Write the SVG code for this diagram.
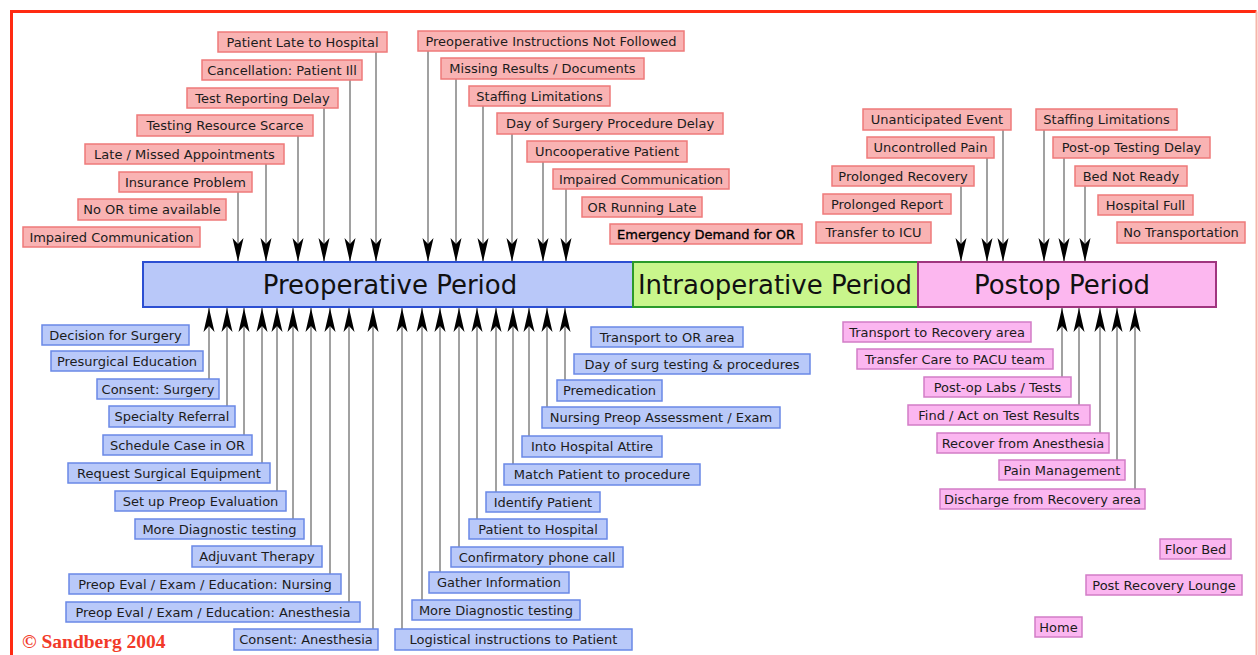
<svg xmlns="http://www.w3.org/2000/svg" width="1258" height="655" viewBox="0 0 1258 655">
<style>
  .r rect{fill:#f9b3b3;stroke:#ee7a7a;stroke-width:1.5}
  .b rect{fill:#b9c9f9;stroke:#6a88e6;stroke-width:1.5}
  .p rect{fill:#fbb6f0;stroke:#d27cc6;stroke-width:1.5}
  text{font-family:"DejaVu Sans","Liberation Sans",sans-serif;font-size:13px;fill:#1c1c1c;text-anchor:middle}
  .bar text{font-size:26px;fill:#111}
  .c line{stroke:#8a8a8a;stroke-width:1.6}
  .dn line{marker-end:url(#ah)}
  .up line{marker-end:url(#ah)}
</style>
<defs>
  <marker id="ah" viewBox="-25 -6 26 12" markerUnits="userSpaceOnUse" markerWidth="26" markerHeight="12" refX="0" refY="0" orient="auto">
    <path d="M0,0 L-24,-5.5 L-18,0 L-24,5.5 Z" fill="#000"/>
  </marker>
</defs>
<rect x="0" y="0" width="1258" height="655" fill="#fff"/>
<path d="M11.5,680 L11.5,11.5 L1256.5,11.5" fill="none" stroke="#ff2a12" stroke-width="3"/>
<line x1="1256.5" y1="11.5" x2="1256.5" y2="655" stroke="#f7b5aa" stroke-width="2"/>

<g class="c">
 <g class="dn">
  <line x1="238" y1="192" x2="238" y2="262"/>
  <line x1="266" y1="164" x2="266" y2="262"/>
  <line x1="298" y1="136" x2="298" y2="262"/>
  <line x1="324" y1="108" x2="324" y2="262"/>
  <line x1="350" y1="80" x2="350" y2="262"/>
  <line x1="376" y1="52" x2="376" y2="262"/>
  <line x1="428" y1="51" x2="428" y2="262"/>
  <line x1="456" y1="79" x2="456" y2="262"/>
  <line x1="483" y1="106" x2="483" y2="262"/>
  <line x1="512" y1="134" x2="512" y2="262"/>
  <line x1="543" y1="162" x2="543" y2="262"/>
  <line x1="566" y1="189" x2="566" y2="262"/>
  <line x1="961" y1="186" x2="961" y2="262"/>
  <line x1="987" y1="158" x2="987" y2="262"/>
  <line x1="1003" y1="130" x2="1003" y2="262"/>
  <line x1="1044" y1="130" x2="1044" y2="262"/>
  <line x1="1064" y1="158" x2="1064" y2="262"/>
  <line x1="1085" y1="186" x2="1085" y2="262"/>
 </g>
 <g class="up">
  <line x1="209" y1="379" x2="209" y2="308"/>
  <line x1="227" y1="406" x2="227" y2="308"/>
  <line x1="244" y1="435" x2="244" y2="308"/>
  <line x1="262" y1="463" x2="262" y2="308"/>
  <line x1="277" y1="491" x2="277" y2="308"/>
  <line x1="293" y1="519" x2="293" y2="308"/>
  <line x1="311" y1="546" x2="311" y2="308"/>
  <line x1="330" y1="574" x2="330" y2="308"/>
  <line x1="349" y1="602" x2="349" y2="308"/>
  <line x1="373" y1="629" x2="373" y2="308"/>
  <line x1="402" y1="629" x2="402" y2="308"/>
  <line x1="422" y1="600" x2="422" y2="308"/>
  <line x1="440" y1="572" x2="440" y2="308"/>
  <line x1="459" y1="547" x2="459" y2="308"/>
  <line x1="477" y1="519" x2="477" y2="308"/>
  <line x1="496" y1="492" x2="496" y2="308"/>
  <line x1="513" y1="464" x2="513" y2="308"/>
  <line x1="529" y1="436" x2="529" y2="308"/>
  <line x1="547" y1="407" x2="547" y2="308"/>
  <line x1="565" y1="380" x2="565" y2="308"/>
  <line x1="1062" y1="377" x2="1062" y2="308"/>
  <line x1="1079" y1="405" x2="1079" y2="308"/>
  <line x1="1100" y1="433" x2="1100" y2="308"/>
  <line x1="1117" y1="460" x2="1117" y2="308"/>
  <line x1="1135" y1="489" x2="1135" y2="308"/>
 </g>
</g>

<g class="bar">
 <g id="preop"><rect x="143" y="262" width="490" height="45" fill="#b9c8f9" stroke="#2c4fd2" stroke-width="2"/><text x="390" y="294">Preoperative Period</text></g>
 <g id="intraop"><rect x="633" y="262" width="285" height="45" fill="#c9f68c" stroke="#2a9a2a" stroke-width="2"/><text x="775" y="294">Intraoperative Period</text></g>
 <g id="postop"><rect x="918" y="262" width="298" height="45" fill="#fcb7ef" stroke="#a0357f" stroke-width="2"/><text x="1062" y="294">Postop Period</text></g>
</g>

<g class="r">
 <g id="r1"><rect x="218" y="32" width="169" height="20"/><text x="302.5" y="46.5">Patient Late to Hospital</text></g>
 <g id="r2"><rect x="202" y="60" width="160" height="20"/><text x="282" y="74.5">Cancellation: Patient Ill</text></g>
 <g id="r3"><rect x="187" y="88" width="151" height="20"/><text x="262.5" y="102.5">Test Reporting Delay</text></g>
 <g id="r4"><rect x="137" y="115" width="176" height="21"/><text x="225" y="130">Testing Resource Scarce</text></g>
 <g id="r5"><rect x="85" y="144" width="199" height="20"/><text x="184.5" y="158.5">Late / Missed Appointments</text></g>
 <g id="r6"><rect x="119" y="172" width="133" height="20"/><text x="185.5" y="186.5">Insurance Problem</text></g>
 <g id="r7"><rect x="78" y="199" width="148" height="21"/><text x="152" y="214">No OR time available</text></g>
 <g id="r8"><rect x="23" y="227" width="177" height="20"/><text x="111.5" y="241.5">Impaired Communication</text></g>
 <g id="r9"><rect x="418" y="31" width="266" height="20"/><text x="551" y="45.5">Preoperative Instructions Not Followed</text></g>
 <g id="r10"><rect x="441" y="58" width="203" height="21"/><text x="542.5" y="73">Missing Results / Documents</text></g>
 <g id="r11"><rect x="469" y="86" width="141" height="20"/><text x="539.5" y="100.5">Staffing Limitations</text></g>
 <g id="r12"><rect x="497" y="113" width="226" height="21"/><text x="610" y="128">Day of Surgery Procedure Delay</text></g>
 <g id="r13"><rect x="527" y="141" width="160" height="21"/><text x="607" y="156">Uncooperative Patient</text></g>
 <g id="r14"><rect x="553" y="169" width="176" height="20"/><text x="641" y="183.5">Impaired Communication</text></g>
 <g id="r15"><rect x="582" y="197" width="120" height="20"/><text x="642" y="211.5">OR Running Late</text></g>
 <g id="r16"><rect x="610" y="224" width="192" height="20"/><text x="706" y="238.5" style="fill:#000;stroke:#000;stroke-width:0.35">Emergency Demand for OR</text></g>
 <g id="r17"><rect x="863" y="109" width="148" height="21"/><text x="937" y="124">Unanticipated Event</text></g>
 <g id="r18"><rect x="867" y="137" width="127" height="21"/><text x="930.5" y="152">Uncontrolled Pain</text></g>
 <g id="r19"><rect x="832" y="166" width="142" height="20"/><text x="903" y="180.5">Prolonged Recovery</text></g>
 <g id="r20"><rect x="823" y="194" width="128" height="20"/><text x="887" y="208.5">Prolonged Report</text></g>
 <g id="r21"><rect x="816" y="222" width="115" height="21"/><text x="873.5" y="237">Transfer to ICU</text></g>
 <g id="r22"><rect x="1036" y="109" width="141" height="21"/><text x="1106.5" y="124">Staffing Limitations</text></g>
 <g id="r23"><rect x="1053" y="137" width="157" height="21"/><text x="1131.5" y="152">Post-op Testing Delay</text></g>
 <g id="r24"><rect x="1075" y="166" width="112" height="20"/><text x="1131" y="180.5">Bed Not Ready</text></g>
 <g id="r25"><rect x="1098" y="195" width="95" height="20"/><text x="1145.5" y="209.5">Hospital Full</text></g>
 <g id="r26"><rect x="1117" y="222" width="128" height="21"/><text x="1181" y="237">No Transportation</text></g>
</g>

<g class="b">
 <g id="b1"><rect x="42" y="325" width="147" height="20"/><text x="115.5" y="339.5">Decision for Surgery</text></g>
 <g id="b2"><rect x="51" y="351" width="152" height="20"/><text x="127" y="365.5">Presurgical Education</text></g>
 <g id="b3"><rect x="97" y="379" width="122" height="20"/><text x="158" y="393.5">Consent: Surgery</text></g>
 <g id="b4"><rect x="109" y="406" width="126" height="21"/><text x="172" y="421">Specialty Referral</text></g>
 <g id="b5"><rect x="103" y="435" width="149" height="20"/><text x="177.5" y="449.5">Schedule Case in OR</text></g>
 <g id="b6"><rect x="68" y="463" width="202" height="20"/><text x="169" y="477.5">Request Surgical Equipment</text></g>
 <g id="b7"><rect x="115" y="491" width="171" height="20"/><text x="200.5" y="505.5">Set up Preop Evaluation</text></g>
 <g id="b8"><rect x="135" y="519" width="169" height="20"/><text x="219.5" y="533.5">More Diagnostic testing</text></g>
 <g id="b9"><rect x="192" y="546" width="130" height="21"/><text x="257" y="561">Adjuvant Therapy</text></g>
 <g id="b10"><rect x="69" y="574" width="272" height="20"/><text x="205" y="588.5">Preop Eval / Exam / Education: Nursing</text></g>
 <g id="b11"><rect x="66" y="602" width="294" height="20"/><text x="213" y="616.5">Preop Eval / Exam / Education: Anesthesia</text></g>
 <g id="b12"><rect x="234" y="629" width="144" height="21"/><text x="306" y="644">Consent: Anesthesia</text></g>
 <g id="b13"><rect x="591" y="327" width="152" height="20"/><text x="667" y="341.5">Transport to OR area</text></g>
 <g id="b14"><rect x="574" y="354" width="236" height="20"/><text x="692" y="368.5">Day of surg testing &amp; procedures</text></g>
 <g id="b15"><rect x="557" y="380" width="105" height="21"/><text x="609.5" y="395">Premedication</text></g>
 <g id="b16"><rect x="542" y="407" width="238" height="21"/><text x="661" y="422">Nursing Preop Assessment / Exam</text></g>
 <g id="b17"><rect x="522" y="436" width="140" height="21"/><text x="592" y="451">Into Hospital Attire</text></g>
 <g id="b18"><rect x="504" y="464" width="196" height="21"/><text x="602" y="479">Match Patient to procedure</text></g>
 <g id="b19"><rect x="486" y="492" width="114" height="20"/><text x="543" y="506.5">Identify Patient</text></g>
 <g id="b20"><rect x="469" y="519" width="138" height="20"/><text x="538" y="533.5">Patient to Hospital</text></g>
 <g id="b21"><rect x="451" y="547" width="172" height="20"/><text x="537" y="561.5">Confirmatory phone call</text></g>
 <g id="b22"><rect x="429" y="572" width="140" height="21"/><text x="499" y="587">Gather Information</text></g>
 <g id="b23"><rect x="412" y="600" width="168" height="20"/><text x="496" y="614.5">More Diagnostic testing</text></g>
 <g id="b24"><rect x="395" y="629" width="237" height="21"/><text x="513.5" y="644">Logistical instructions to Patient</text></g>
</g>

<g class="p">
 <g id="p1"><rect x="843" y="322" width="188" height="20"/><text x="937" y="336.5">Transport to Recovery area</text></g>
 <g id="p2"><rect x="857" y="349" width="196" height="20"/><text x="955" y="363.5">Transfer Care to PACU team</text></g>
 <g id="p3"><rect x="924" y="377" width="147" height="20"/><text x="997.5" y="391.5">Post-op Labs / Tests</text></g>
 <g id="p4"><rect x="908" y="405" width="182" height="20"/><text x="999" y="419.5">Find / Act on Test Results</text></g>
 <g id="p5"><rect x="937" y="433" width="172" height="20"/><text x="1023" y="447.5">Recover from Anesthesia</text></g>
 <g id="p6"><rect x="999" y="460" width="126" height="20"/><text x="1062" y="474.5">Pain Management</text></g>
 <g id="p7"><rect x="940" y="489" width="205" height="20"/><text x="1042.5" y="503.5">Discharge from Recovery area</text></g>
 <g id="p8"><rect x="1160" y="539" width="71" height="20"/><text x="1195.5" y="553.5">Floor Bed</text></g>
 <g id="p9"><rect x="1086" y="575" width="156" height="20"/><text x="1164" y="589.5">Post Recovery Lounge</text></g>
 <g id="p10"><rect x="1035" y="617" width="47" height="20"/><text x="1058.5" y="631.5">Home</text></g>
</g>

<text x="22" y="648" style="font-family:'Liberation Serif',serif;font-size:19.5px;font-weight:bold;fill:#f23a28;text-anchor:start">© Sandberg 2004</text>
</svg>
